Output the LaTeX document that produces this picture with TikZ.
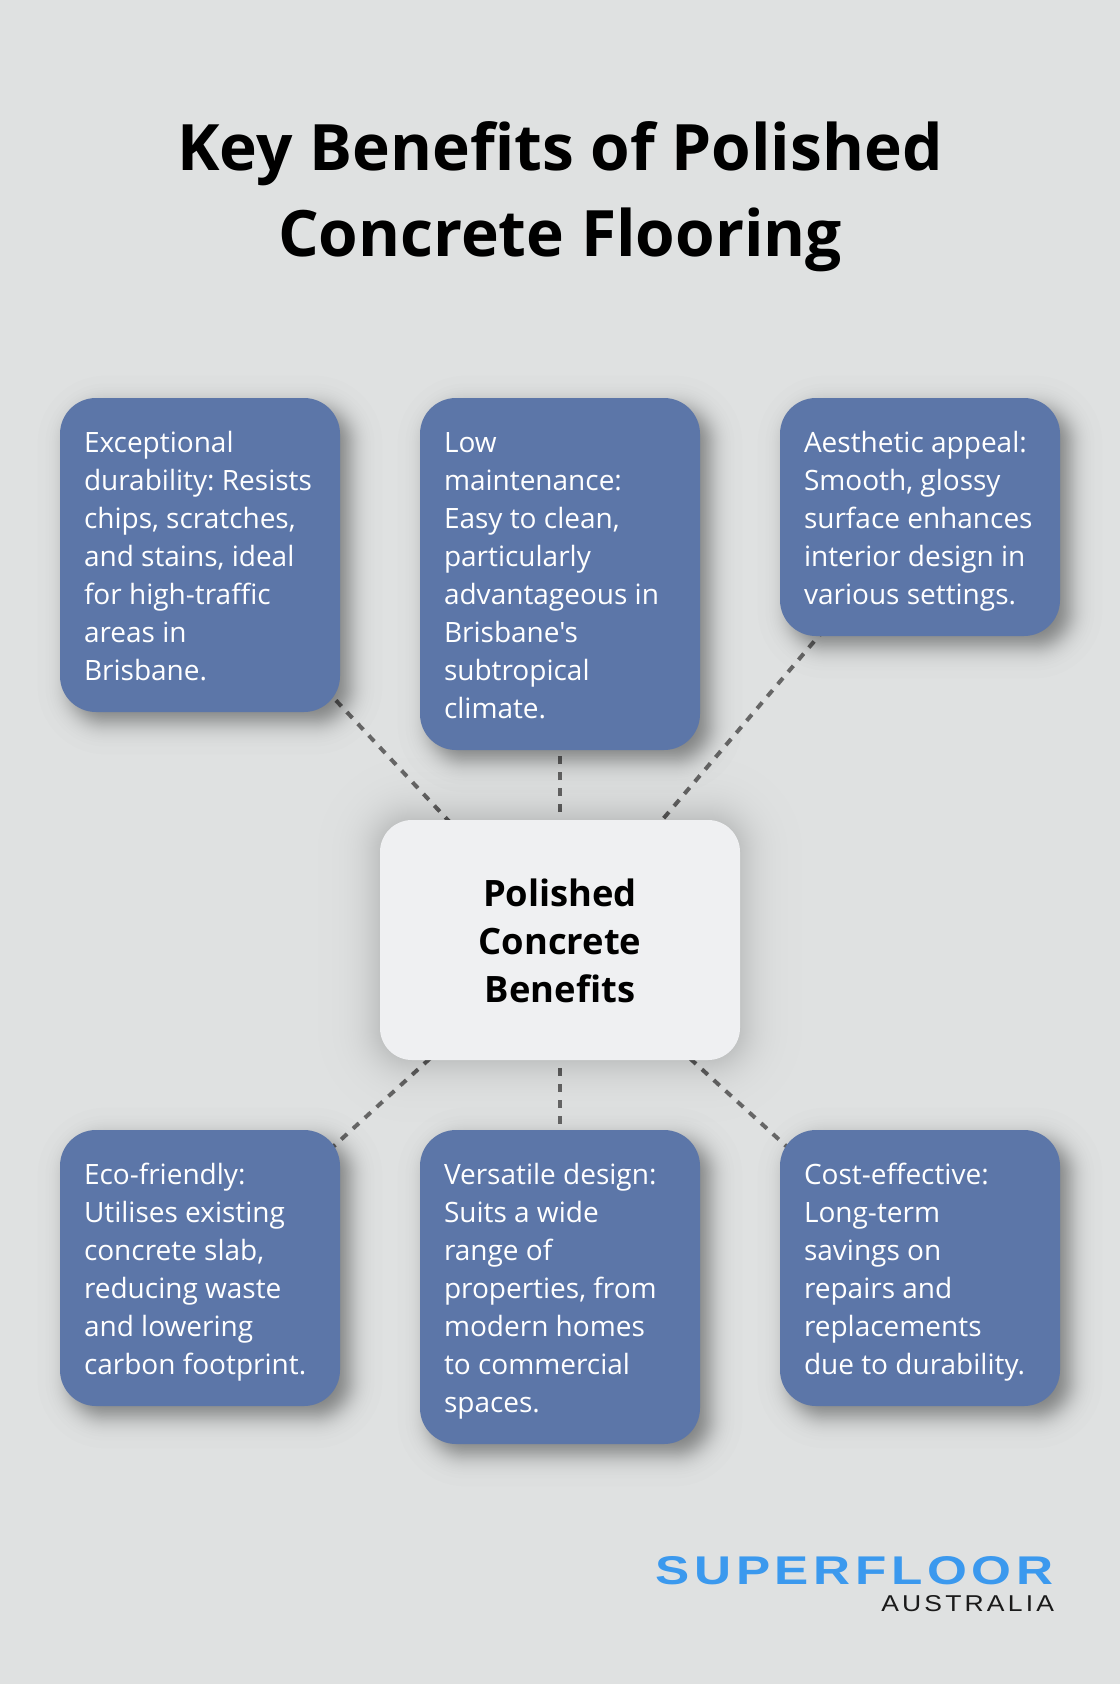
\documentclass[tikz,border=0pt]{standalone}
\usepackage{fontspec}
\setmainfont{Open Sans}[Ligatures=TeXOff]
\newfontfamily\logofont{Liberation Sans}[LetterSpace=9]
\newfontfamily\logosubfont{Liberation Sans}[LetterSpace=12]
\definecolor{pagebg}{HTML}{DFE1E1}
\definecolor{bluefill}{HTML}{5C76A8}
\definecolor{centerfill}{HTML}{EFF0F2}
\definecolor{linegray}{HTML}{666666}
\definecolor{logoblue}{HTML}{3B99EE}
\definecolor{logodark}{HTML}{1A1A1A}
\pgfdeclarelayer{under}
\pgfsetlayers{under,main}
\newcommand{\bodystrut}{\rule[-5.35pt]{0pt}{28.5pt}}
\newcommand{\centerstrut}{\rule[-7.5pt]{0pt}{36pt}}
\newcommand{\titlestrut}{\rule[-13.7pt]{0pt}{64.5pt}}
\newcommand{\softshadow}[7]{%
  % node, dx, dy, logistic scale, layers, opacity per layer, corner radius in px
  \foreach \k in {1,...,#5}{%
    \pgfmathsetmacro{\pp}{(\k-0.5)/#5}%
    \pgfmathsetmacro{\g}{#4*ln(\pp/(1-\pp))}%
    \pgfmathsetmacro{\rr}{max(1,#7+\g)*0.75}%
    \fill[black,fill opacity=#6,rounded corners=\rr pt]
      ([shift={(#2-\g,#3+\g)}]#1.south west) rectangle ([shift={(#2+\g,#3-\g)}]#1.north east);
  }%
}
\tikzset{
  bluebox/.style={fill=bluefill,text=white,rounded corners=27pt,inner xsep=18pt,inner ysep=0pt,
    text width=174pt,minimum width=210pt,align=flush left,anchor=center,
    font=\fontsize{21}{28.5}\selectfont\frenchspacing,
    execute at begin node=\bodystrut,execute at end node=\bodystrut},
  centerbox/.style={fill=centerfill,text=black,rounded corners=24pt,inner xsep=0pt,inner ysep=0pt,
    text width=270pt,minimum width=270pt,minimum height=180pt,align=flush center,
    font=\fontsize{27.25}{36}\selectfont\bfseries,
    execute at begin node=\centerstrut,execute at end node=\centerstrut},
  titletext/.style={text=black,inner sep=0pt,text width=760pt,align=flush center,anchor=north,
    font=\fontsize{48}{64.5}\selectfont\bfseries,
    execute at begin node=\titlestrut,execute at end node=\titlestrut},
  link/.style={draw=linegray,line width=3pt,dash pattern=on 6pt off 6pt},
  logotext/.style={inner sep=0pt,anchor=south west}
}
\begin{document}
\begin{tikzpicture}[x=0.75pt,y=-0.75pt]
\useasboundingbox (0,0) rectangle (1120,1684);
\node[titletext] (title) at (560,102.3) {Key Benefits of Polished\\Concrete Flooring};
\node[bluebox,minimum height=235.5pt] (b1) at (200,555) {Exceptional\\durability: Resists\\chips, scratches,\\and stains, ideal\\for high-traffic\\areas in\\Brisbane.};
\node[bluebox,minimum height=264pt] (b2) at (560,574) {Low\\maintenance:\\Easy to clean,\\particularly\\advantageous in\\Brisbane's\\subtropical\\climate.};
\node[bluebox,minimum height=178.5pt] (b3) at (920,517) {Aesthetic appeal:\\Smooth, glossy\\surface enhances\\interior design in\\various settings.};
\node[centerbox] (c) at (560,940) {Polished\\Concrete\\Benefits};
\node[bluebox,minimum height=207pt] (b4) at (200,1268) {Eco-friendly:\\Utilises existing\\concrete slab,\\reducing waste\\and lowering\\carbon footprint.};
\node[bluebox,minimum height=235.5pt] (b5) at (560,1287) {Versatile design:\\Suits a wide\\range of\\properties, from\\modern homes\\to commercial\\spaces.};
\node[bluebox,minimum height=207pt] (b6) at (920,1268) {Cost-effective:\\Long-term\\savings on\\repairs and\\replacements\\due to durability.};
\node[logotext,text=logoblue] (logo1) at (655.5,1585) {\resizebox{298pt}{21pt}{\logofont\bfseries SUPERFLOOR}};
\node[logotext,text=logodark] (logo2) at (881,1612) {\resizebox{129.5pt}{12pt}{\logosubfont AUSTRALIA}};
\begin{pgfonlayer}{under}
  \fill[pagebg] (0,0) rectangle (1120,1684);
  \foreach \n in {b1,b2,b3,b4,b5,b6}{\draw[link] (c.center) -- (\n.center);}
  \softshadow{c}{0}{0}{13}{60}{0.0048}{32}
  \foreach \n in {b1,b2,b3,b4,b5,b6}{\softshadow{\n}{10}{10}{7}{50}{0.008}{36}}
\end{pgfonlayer}
\end{tikzpicture}
\end{document}
